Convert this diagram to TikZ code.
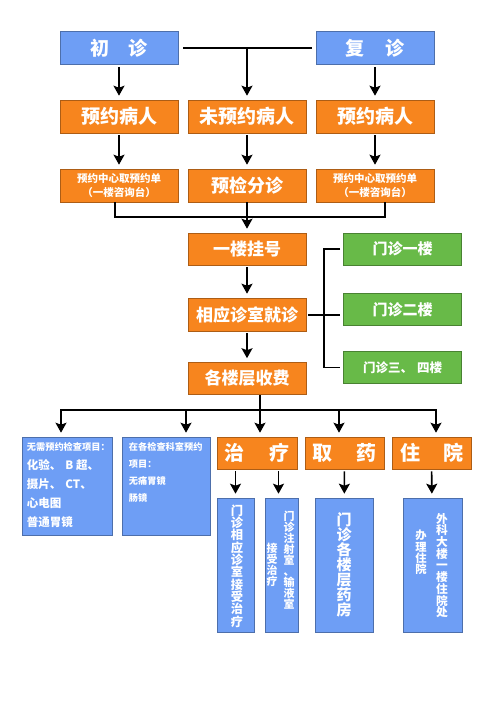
\documentclass[tikz,border=0pt]{standalone}
\usepackage{fontspec}
\newfontfamily\cjk{Noto Sans CJK SC}
\usetikzlibrary{arrows.meta,calc}

\definecolor{boxblue}{RGB}{110,158,245}
\definecolor{boxorange}{RGB}{247,133,30}
\definecolor{boxgreen}{RGB}{104,186,72}

\tikzset{
  box/.style={draw=#1!70!black, fill=#1, line width=0.6pt, text=white,
    inner sep=0pt, align=center},
  bluebox/.style={box=boxblue},
  orangebox/.style={box=boxorange},
  greenbox/.style={box=boxgreen},
  wide/.style={minimum width=118pt, minimum height=33pt},
  big/.style={font=\cjk\bfseries\fontsize{#1}{#1}\selectfont},
  vtext/.style={text=white, inner sep=0pt, align=center,
    font=\cjk\bfseries\fontsize{#1}{#1}\selectfont},
  line/.style={line width=1.6pt},
  arr/.style={line, -{Stealth[length=10pt,width=11pt,inset=2pt]},
    shorten <=2pt, shorten >=4pt},
}

\begin{document}
\begin{tikzpicture}[x=1pt,y=-1pt]
\fill[white] (0,0) rectangle (500,707);
\useasboundingbox (0,0) rectangle (500,707);

% first and second visit
\node[bluebox, wide, big=19] (chu) at (119,48) {初\hspace{20pt}诊};
\node[bluebox, wide, big=19] (fu) at (375,48) {复\hspace{22pt}诊};

% appointment
\node[orangebox, wide, big=19] (yue1) at (119,116.5) {预约病人};
\node[orangebox, wide, big=19] (wei) at (247,116.5) {未预约病人};
\node[orangebox, wide, big=19] (yue2) at (375,116.5) {预约病人};

\node[orangebox, wide, big=10.5] (qu1) at (119,185.5)
  {预约中心取预约单\\[3pt]（一楼咨询台）};
\node[orangebox, wide, big=18] (fenzhen) at (247,185.5) {预检分诊};
\node[orangebox, wide, big=10.5] (qu2) at (375,185.5)
  {预约中心取预约单\\[3pt]（一楼咨询台）};

% registration and visit
\node[orangebox, wide, minimum height=32pt, big=17] (guahao) at (247,249) {一楼挂号};
\node[orangebox, wide, big=17] (jiuzhen) at (247,314.5) {相应诊室就诊};
\node[orangebox, wide, minimum height=32pt, big=17] (shoufei) at (247,378.5) {各楼层收费};

% floors
\node[greenbox, wide, minimum height=32pt, big=15] (g1) at (402.5,249) {门诊一楼};
\node[greenbox, wide, minimum height=32pt, big=15] (g2) at (402.5,309.5) {门诊二楼};
\node[greenbox, wide, minimum height=32pt, big=12.5] (g3) at (402.5,367.5) {门诊三、\hspace{4pt}四楼};

% examinations
\node[bluebox, minimum width=90pt, minimum height=98pt] (jc1) at (67,486) {};
\node[bluebox, minimum width=88pt, minimum height=98pt] (jc2) at (166,486) {};
\node[anchor=north west, text=white, inner sep=0pt, align=left,
  font=\cjk\bfseries\fontsize{11.5}{19}\selectfont] (jc1t) at ($(jc1.north west)+(5,6)$)
  {{\fontsize{9.2}{19}\selectfont 无需预约检查项目：}\\化验、\hspace{4pt}B 超、\\摄片、\hspace{4pt}CT、\\心电图\\普通胃镜};
\node[anchor=north west, text=white, inner sep=0pt, align=left,
  font=\cjk\bfseries\fontsize{9.2}{16.7}\selectfont] (jc2t) at ($(jc2.north west)+(7,6)$)
  {在各检查科室预约\\项目：\\无痛胃镜\\肠镜};

% treatment, medicine, hospital stay
\node[orangebox, minimum width=80pt, minimum height=32pt, big=20] (zhiliao) at (257,453) {治\hspace{25pt}疗};
\node[orangebox, minimum width=79pt, minimum height=32pt, big=20] (quyao) at (344.5,453) {取\hspace{24pt}药};
\node[orangebox, minimum width=79pt, minimum height=32pt, big=20] (zhuyuan) at (431.5,453) {住\hspace{23pt}院};

\node[bluebox, minimum width=37pt, minimum height=134pt] (vA) at (235.5,565) {};
\node[bluebox, minimum width=33pt, minimum height=134pt] (vB) at (281.5,565) {};
\node[bluebox, minimum width=58pt, minimum height=134pt] (vC) at (344,565) {};
\node[bluebox, minimum width=59pt, minimum height=134pt] (vD) at (432.5,565) {};

\node[vtext=12.3] (vAt) at (237,566) {门\\诊\\相\\应\\诊\\室\\接\\受\\治\\疗};
\node[vtext=11] (vBr) at (289,560) {门\\诊\\注\\射\\室\\、\\输\\液\\室};
\node[vtext=11] (vBl) at (272,564.5) {接\\受\\治\\疗};
\node[vtext=15] (vCt) at (344,564.5) {门\\诊\\各\\楼\\层\\药\\房};
\node[vtext=11.7] (vDr) at (442,565.5) {外\\科\\大\\楼\\一\\楼\\住\\院\\处};
\node[vtext=11.3] (vDl) at (421,552.5) {办\\理\\住\\院};

% connectors, top part
\draw[line] ([xshift=5pt]chu.east) -- ([xshift=-4pt]fu.west);
\draw[arr] (chu) -- (yue1);
\draw[arr] (fu) -- (yue2);
\draw[arr, shorten <=0pt] ($(chu.east)!(wei.north)!(fu.west)$) -- (wei.north);
\draw[arr] (yue1) -- (qu1);
\draw[arr] (wei) -- (fenzhen);
\draw[arr] (yue2) -- (qu2);

\coordinate (bus1) at (247,217);
\draw[line] ([xshift=-4pt]qu1.south) |- (bus1) -| ([xshift=10pt]qu2.south);
\draw[arr, shorten <=0pt] (fenzhen) -- (guahao);
\draw[arr] (guahao) -- (jiuzhen);
\draw[arr] (jiuzhen) -- (shoufei);

% bracket to the floors
\coordinate (br) at (324,315);
\draw[line] ([xshift=2pt]jiuzhen.east |- br) -- ([xshift=-3pt]g2.west |- br);
\draw[line] ([xshift=-3pt]g1.west) -| (br |- g3.west) -- ([xshift=-3pt]g3.west);

% connectors, bottom part
\coordinate (t1) at (61,410);
\coordinate (t2) at (186,410);
\coordinate (t3) at (260,410);
\coordinate (t4) at (339,410);
\coordinate (t5) at (436,410);
\draw[line] (t1) -- (t5);
\draw[line] (shoufei.south -| t3) -- (t3);
\draw[arr, shorten <=-0.8pt] (t1) -- (t1 |- jc1.north);
\draw[arr, shorten <=-0.8pt] (t2) -- (t2 |- jc2.north);
\draw[arr, shorten <=-0.8pt] (t3) -- (t3 |- zhiliao.north);
\draw[arr, shorten <=-0.8pt] (t4) -- (t4 |- quyao.north);
\draw[arr, shorten <=-0.8pt] (t5) -- (t5 |- zhuyuan.north);

\draw[arr] (vA.north |- zhiliao.south) -- (vA.north);
\draw[arr] ([xshift=-3pt]vB.north |- zhiliao.south) -- ([xshift=-3pt]vB.north);
\draw[arr] (quyao) -- (vC);
\draw[arr] (zhuyuan) -- (vD);

\end{tikzpicture}
\end{document}
